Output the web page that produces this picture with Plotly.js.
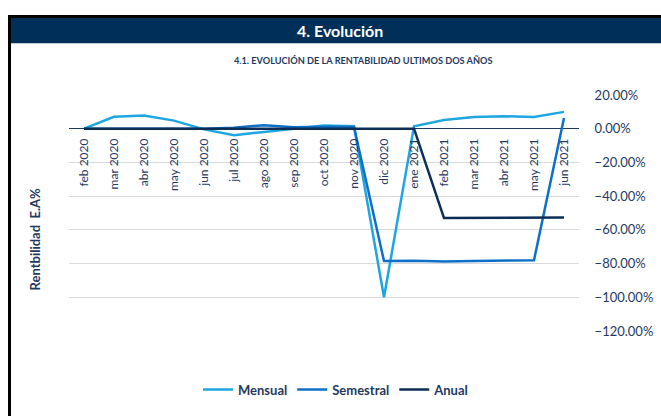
<!DOCTYPE html>
<html>
<head>
<meta charset="utf-8">
<script src="https://cdn.plot.ly/plotly-3.0.1.min.js"></script>
<style>
  html, body { margin: 0; padding: 0; background: #fff; }
  #grafico { width: 661px; height: 416px; }
</style>
</head>
<body>
<div id="grafico"></div>
<script>
// meses (eje x)
const meses = ['feb 2020', 'mar 2020', 'abr 2020', 'may 2020', 'jun 2020', 'jul 2020',
  'ago 2020', 'sep 2020', 'oct 2020', 'nov 2020', 'dic 2020', 'ene 2021',
  'feb 2021', 'mar 2021', 'abr 2021', 'may 2021', 'jun 2021'];

// rentabilidad E.A. en %
const mensual = [0.0, 7.1, 7.8, 4.8, -0.4, -3.9, -1.9, 0.0, 1.9, 1.5, -100.0, 1.5,
  5.2, 6.9, 7.4, 6.9, 10.0];
const semestral = [0.0, 0.0, 0.0, 0.0, 0.0, 0.6, 2.1, 0.9, 1.2, 1.0, -78.5, -78.3,
  -78.8, -78.5, -78.4, -78.0, 6.4];
const anual = [0.0, 0.0, 0.0, 0.0, 0.0, 0.0, 0.0, 0.0, 0.0, 0.0, 0.0, 0.0,
  -53.0, -53.0, -52.9, -52.8, -52.6];

const azulOscuro = '#00305a';
const textoAzul = '#1f3a60';
const fuente = 'Lato, "Open Sans", sans-serif';

function serie(nombre, valores, color) {
  return {
    x: meses,
    y: valores,
    mode: 'lines',
    name: nombre,
    line: { color: color, width: 2.5 },
    hoverinfo: 'skip',
  };
}

const trazas = [
  serie('Mensual', mensual, '#1ea6e1'),
  serie('Semestral', semestral, '#0d70c6'),
  serie('Anual', anual, '#0c2e56'),
];

const layout = {
  width: 661,
  height: 416,
  margin: { l: 69, r: 82, t: 95, b: 79 },
  paper_bgcolor: '#ffffff',
  plot_bgcolor: '#ffffff',
  font: { family: fuente, color: textoAzul },
  showlegend: true,
  legend: {
    orientation: 'h',
    x: 0.5235, xanchor: 'center',
    y: -0.248, yanchor: 'middle',
    font: { size: 13, weight: 'bold', color: textoAzul },
    itemwidth: 30,
    tracegroupgap: 0,
  },
  xaxis: {
    type: 'category',
    range: [-0.5, meses.length - 0.5],
    anchor: 'free',
    position: 120 / 140,   // el eje cruza en 0
    showgrid: false,
    showline: false,
    zeroline: false,
    tickangle: -90,
    ticks: 'outside',
    ticklen: 4,
    tickcolor: 'rgba(0,0,0,0)',
    tickfont: { size: 12, color: textoAzul },
    fixedrange: true,
  },
  yaxis: {
    side: 'right',
    range: [-120, 20],
    dtick: 20,
    tickformat: '.2f',
    ticksuffix: '%',
    showgrid: true,
    gridcolor: '#d9d9d9',
    gridwidth: 1,
    zeroline: true,
    zerolinecolor: '#1f3a60',
    zerolinewidth: 1,
    ticks: 'outside',
    ticklen: 12,
    tickcolor: 'rgba(0,0,0,0)',
    tickfont: { size: 13, color: textoAzul },
    fixedrange: true,
  },
  shapes: [
    // barra de cabecera
    { type: 'rect', xref: 'paper', yref: 'paper', x0: -0.1137, x1: 1.2, y0: 1.219, y1: 1.326,
      fillcolor: azulOscuro, line: { width: 0 }, layer: 'below' },
    // borde negro superior
    { type: 'rect', xref: 'paper', yref: 'paper', x0: -0.1196, x1: 1.2, y0: 1.326, y1: 1.339,
      fillcolor: '#000000', line: { width: 0 }, layer: 'below' },
    // borde negro izquierdo
    { type: 'rect', xref: 'paper', yref: 'paper', x0: -0.1196, x1: -0.1137, y0: -0.36, y1: 1.339,
      fillcolor: '#000000', line: { width: 0 }, layer: 'below' },
  ],
  annotations: [
    { text: '4. Evolución', xref: 'paper', yref: 'paper', x: 0.532, y: 1.273,
      xanchor: 'center', yanchor: 'middle', showarrow: false,
      font: { size: 16, color: '#ffffff', weight: 'bold', family: fuente } },
    { text: '4.1. EVOLUCIÓN DE LA RENTABILIDAD ULTIMOS DOS AÑOS', xref: 'paper', yref: 'paper',
      x: 0.578, y: 1.145, xanchor: 'center', yanchor: 'middle', showarrow: false,
      font: { size: 9.2, color: textoAzul, weight: 'bold', family: fuente } },
    { text: 'Rentbilidad  E.A%', xref: 'paper', yref: 'paper', x: -0.0667, y: 0.388,
      xanchor: 'center', yanchor: 'middle', textangle: -90, showarrow: false,
      font: { size: 13, color: textoAzul, weight: 'bold', family: fuente } },
  ],
  hovermode: false,
  dragmode: false,
};

Plotly.newPlot('grafico', trazas, layout, { displayModeBar: false, staticPlot: true });
</script>
</body>
</html>
